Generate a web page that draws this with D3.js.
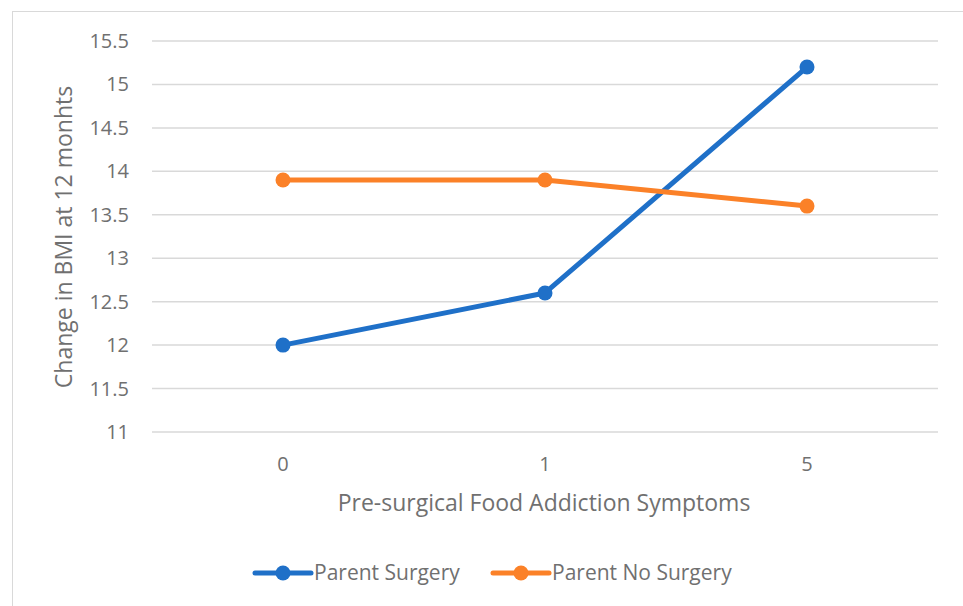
<!DOCTYPE html>
<html><head><meta charset="utf-8">
<script src="https://cdn.jsdelivr.net/npm/d3@7"></script>
<style>body{margin:0;background:#fff}svg text{font-family:"Open Sans","Noto Sans",sans-serif;fill:#707070}</style>
</head><body><svg id="c" width="963" height="606"></svg>
<script>
const categories = ["0","1","5"];
const parentSurgery = [12, 12.6, 15.2];
const parentNoSurgery = [13.9, 13.9, 13.6];
const yTicks = [11,11.5,12,12.5,13,13.5,14,14.5,15,15.5];
const seriesNames = ["Parent Surgery","Parent No Surgery"];
const colors = ["#1f70c8","#fb8128"];

(function(){
const svg = d3.select("#c");
svg.append("rect").attr("x",12.5).attr("y",11.5).attr("width",960).attr("height",600).attr("fill","none").attr("stroke","#d9d9d9");

const pl=152,pr=938,pt=41,pb=432;
const x = d3.scaleBand().domain(categories).range([pl,pr]);
const y = d3.scaleLinear().domain([11,15.5]).range([pb,pt]);

svg.append("g").selectAll("line").data(yTicks).join("line")
  .attr("x1",pl).attr("x2",pr).attr("y1",d=>y(d)).attr("y2",d=>y(d))
  .attr("stroke","#d9d9d9").attr("stroke-width",1.5);

svg.append("g").selectAll("text").data(yTicks).join("text")
  .attr("x",129).attr("y",d=>y(d)).attr("dy","0.35em").attr("text-anchor","end")
  .attr("font-size",20).text(d=>d);

svg.append("g").selectAll("text").data(categories).join("text")
  .attr("x",d=>x(d)+x.bandwidth()/2).attr("y",464).attr("dy","0.35em").attr("text-anchor","middle")
  .attr("font-size",20).text(d=>d);

svg.append("text").attr("x",544).attr("y",503).attr("dy","0.35em").attr("text-anchor","middle")
  .attr("font-size",23).text("Pre-surgical Food Addiction Symptoms");
svg.append("text").attr("transform","translate(64,237) rotate(-90)").attr("dy","0.35em").attr("text-anchor","middle")
  .attr("font-size",23).text("Change in BMI at 12 monhts");

const series=[parentSurgery,parentNoSurgery];
const line=d3.line().x((d,i)=>x(categories[i])+x.bandwidth()/2).y(d=>y(d));
series.forEach((s,k)=>{
  svg.append("path").datum(s).attr("d",line).attr("fill","none").attr("stroke",colors[k]).attr("stroke-width",5).attr("stroke-linejoin","round");
  svg.append("g").selectAll("circle").data(s).join("circle")
    .attr("cx",(d,i)=>x(categories[i])+x.bandwidth()/2).attr("cy",d=>y(d)).attr("r",7.5).attr("fill",colors[k]);
});

const legX=[255,493];
seriesNames.forEach((n,k)=>{
  const g=svg.append("g");
  g.append("line").attr("x1",legX[k]).attr("x2",legX[k]+56).attr("y1",573).attr("y2",573).attr("stroke",colors[k]).attr("stroke-width",5).attr("stroke-linecap","round");
  g.append("circle").attr("cx",legX[k]+28).attr("cy",573).attr("r",7.5).attr("fill",colors[k]);
  g.append("text").attr("x",legX[k]+59).attr("y",573).attr("dy","0.35em").attr("font-size",21).text(n);
});
})();
</script></body></html>
